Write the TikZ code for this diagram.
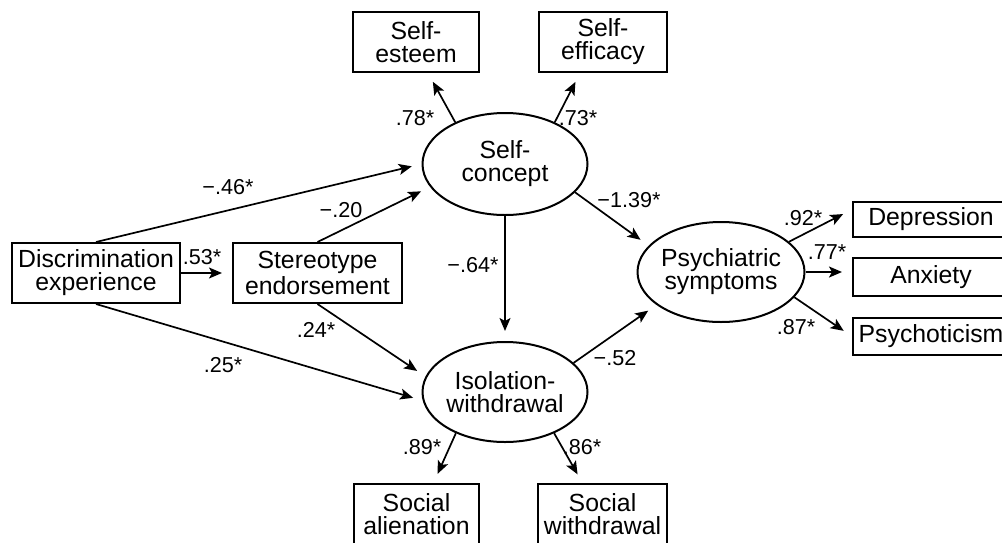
\documentclass[tikz,border=0pt]{standalone}
\usepackage{fontspec}
\setmainfont{Liberation Sans}
\usepackage{tikz}
\usetikzlibrary{shapes.geometric,arrows.meta}
\newcommand{\boxfont}{\fontsize{12.4}{11.5}\selectfont}
\newcommand{\coeffont}{\fontsize{10.8}{12}\selectfont}
\tikzset{
  measure/.style={draw,line width=1pt,inner sep=0pt,align=center,font=\boxfont,minimum height=30pt},
  factor/.style={draw,ellipse,line width=1pt,inner sep=-3pt,align=center,font=\boxfont,minimum width=82.5pt,minimum height=50pt},
  pathway/.style={line width=0.85pt,-{Stealth[length=6.5pt,width=5.5pt,inset=1.5pt]},shorten >=5pt},
  coef/.style={font=\coeffont,inner sep=0pt}
}

\begin{document}
\begin{tikzpicture}[x=0.5pt,y=-0.5pt]
  \useasboundingbox (0,0) rectangle (1002,542);
  % observed and latent variables
  \node[measure,minimum width=84pt] (disc) at (96,273) {Discrimination\\experience};
  \node[measure,minimum width=84.5pt] (stereo) at (317.5,273) {Stereotype\\endorsement};
  \node[measure,minimum width=63pt] (esteem) at (416,42) {Self-\\esteem};
  \node[measure,minimum width=64pt] (efficacy) at (603,42) {Self-\\efficacy};
  \node[factor,minimum height=51pt] (concept) at (505,164) {Self-\\concept};
  \node[factor] (isolation) at (505,392) {Isolation-\\withdrawal};
  \node[factor,minimum width=83.5pt] (psych) at (721,272) {Psychiatric\\symptoms};
  \node[measure,minimum width=78pt,minimum height=17.5pt] (depr) at (931,219.5) {Depression};
  \node[measure,minimum width=78pt,minimum height=19pt] (anx) at (931,277) {Anxiety};
  \node[measure,minimum width=78pt,minimum height=18.5pt] (psychot) at (931,336.5) {Psychoticism};
  \node[measure,minimum width=62.5pt] (alien) at (416.5,514) {Social\\alienation};
  \node[measure,minimum width=64.5pt] (withdr) at (602.5,514) {Social\\withdrawal};

  % paths
  \draw[pathway] (disc.north) -- (concept.west);
  \draw[pathway] (stereo.north) -- (concept.197);
  \draw[pathway] (disc.east) -- (stereo.west);
  \draw[pathway] (stereo.south) -- (isolation.169);
  \draw[pathway] (disc.south) -- (isolation.186);
  \draw[pathway] (concept.south) -- (isolation.north);
  \draw[pathway] (concept.-22) -- (psych.160);
  \draw[pathway] (isolation.23) -- (psych.207);
  \draw[pathway] (concept.140) -- ([xshift=6pt]esteem.south);
  \draw[pathway] (concept.40) -- ([xshift=-11.5pt]efficacy.south);
  \draw[pathway] (psych.24) -- ([yshift=5pt]depr.west);
  \draw[pathway] (psych.east) -- (psych.east -| anx.west);
  \draw[pathway] (psych.-19) -- (psychot.west);
  \draw[pathway] (isolation.220) -- ([xshift=8.5pt]alien.north);
  \draw[pathway] (isolation.-40) -- ([xshift=-10pt]withdr.north);

  % coefficients
  \node[coef] (c46) at (228,187) {−.46*};
  \node[coef] (c20) at (341,210) {−.20};
  \node[coef] (c53) at (202,257) {.53*};
  \node[coef] (c24) at (316,330) {.24*};
  \node[coef] (c25) at (223,365) {.25*};
  \node[coef] (c78) at (415,118) {.78*};
  \node[coef] (c73) at (578,118) {.73*};
  \node[coef] (c139) at (629,200) {−1.39*};
  \node[coef] (c64) at (473,265) {−.64*};
  \node[coef] (c92) at (803,218) {.92*};
  \node[coef] (c77) at (827,252) {.77*};
  \node[coef] (c87) at (796,327) {.87*};
  \node[coef] (c52) at (615,358) {−.52};
  \node[coef] (c89) at (422,447) {.89*};
  \node[coef] (c86) at (582,447) {.86*};
\end{tikzpicture}
\end{document}
